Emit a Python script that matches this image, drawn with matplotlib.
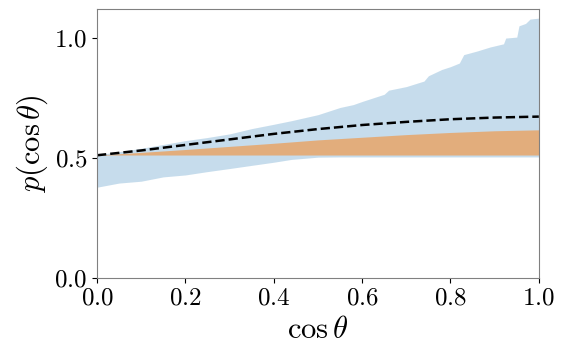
import matplotlib

matplotlib.use("Agg")
import matplotlib.pyplot as plt
import numpy as np

plt.rcParams["font.family"] = "serif"
plt.rcParams["font.serif"] = ["cmr10"]
plt.rcParams["mathtext.fontset"] = "cm"
plt.rcParams["axes.formatter.use_mathtext"] = True

# %% Data
band_x = [0.0, 0.05, 0.1, 0.15, 0.2, 0.25, 0.3, 0.35, 0.4, 0.44, 0.5, 0.55, 0.58,
          0.6, 0.65, 0.66, 0.7, 0.74, 0.75, 0.78, 0.8, 0.82, 0.83, 0.86, 0.89, 0.92,
          0.925, 0.95, 0.955, 0.97, 0.98, 1.0]
band_hi = [0.513, 0.526, 0.540, 0.556, 0.572, 0.585, 0.600, 0.622, 0.64, 0.655, 0.68,
           0.71, 0.722, 0.735, 0.765, 0.782, 0.797, 0.82, 0.842, 0.868, 0.88, 0.895, 0.93,
           0.945, 0.962, 0.975, 0.999, 1.003, 1.05, 1.06, 1.078, 1.082]

low_x = [0.0, 0.02, 0.06, 0.1, 0.135, 0.16, 0.2, 0.25, 0.286, 0.346, 0.38, 0.4, 0.42,
         0.474, 0.5, 0.55, 1.0]
band_lo = [0.378, 0.39, 0.397, 0.403, 0.415, 0.425, 0.429, 0.443, 0.452, 0.468, 0.476,
           0.482, 0.49, 0.500, 0.503, 0.504, 0.504]

curve_x = [0.0, 0.1, 0.2, 0.3, 0.4, 0.5, 0.6, 0.7, 0.8, 0.9, 1.0]
orange_lo = [0.512, 0.512, 0.512, 0.512, 0.512, 0.512, 0.512, 0.512, 0.512, 0.512, 0.512]
orange_hi = [0.512, 0.523, 0.535, 0.548, 0.561, 0.575, 0.586, 0.597, 0.606, 0.613, 0.617]
dashed = [0.511, 0.531, 0.554, 0.577, 0.600, 0.620, 0.637, 0.650, 0.661, 0.668, 0.672]

# lower edge of the blue band on the same grid as the upper edge
band_lo_on_x = np.interp(band_x, low_x, band_lo)

# %% Figure
fig = plt.figure(figsize=(5.69, 3.57), dpi=100)
ax = fig.add_axes([0.1705, 0.2213, 0.7765, 0.7535])

ax.fill_between(band_x, band_lo_on_x, band_hi, color="tab:blue", alpha=0.25, lw=0)
ax.fill_between(curve_x, orange_lo, orange_hi, color="tab:orange", alpha=0.5, lw=0)
ax.plot(curve_x, dashed, "k--", lw=1.8)

ax.set_xlim(0, 1)
ax.set_ylim(0, 1.12)
ax.set_xticks([0, 0.2, 0.4, 0.6, 0.8, 1.0])
ax.set_yticks([0, 0.5, 1.0])
ax.tick_params(labelsize=18)
for s in ax.spines.values():
    s.set_color("gray")
ax.set_xlabel(r"$\cos\theta$", fontsize=22, labelpad=5)
ax.set_ylabel(r"$p(\cos\theta)$", fontsize=22, labelpad=3)

fig.savefig("out.png", dpi=100)
